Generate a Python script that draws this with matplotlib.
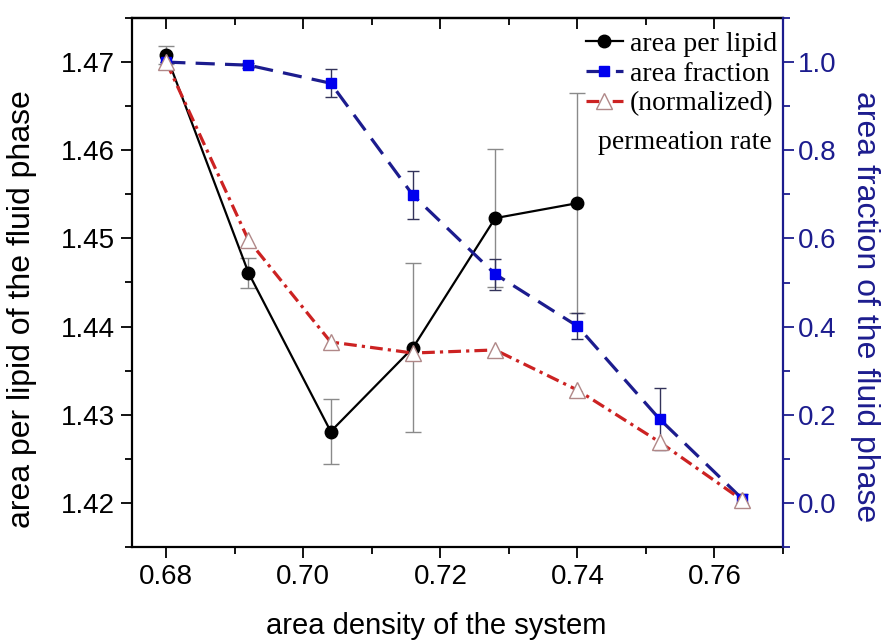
import matplotlib
matplotlib.use("Agg")
import matplotlib.pyplot as plt
from matplotlib.lines import Line2D
from matplotlib.ticker import MultipleLocator, FormatStrFormatter

plt.rcParams['font.family'] = ['Liberation Sans', 'DejaVu Sans']

# ---- data ----
density = [0.680, 0.692, 0.704, 0.716, 0.728, 0.740, 0.752, 0.764]

apl_x = [0.680, 0.692, 0.704, 0.716, 0.728, 0.740]
apl = [1.4708, 1.4461, 1.4281, 1.4376, 1.4523, 1.4540]
apl_err = [0.0010, 0.0017, 0.0037, 0.0096, 0.0078, 0.0125]

frac = [1.000, 0.993, 0.952, 0.698, 0.519, 0.401, 0.190, 0.010]
frac_err = [0.000, 0.006, 0.032, 0.055, 0.035, 0.030, 0.070, 0.010]

perm = [1.000, 0.596, 0.365, 0.340, 0.347, 0.256, 0.138, 0.007]

x_ticks = [0.68, 0.70, 0.72, 0.74, 0.76]
left_ticks = [1.42, 1.43, 1.44, 1.45, 1.46, 1.47]
right_ticks = [0.0, 0.2, 0.4, 0.6, 0.8, 1.0]

navy = '#1c1c8e'
W, H = 884, 644

fig = plt.figure(figsize=(W / 100, H / 100), dpi=100)
ax = fig.add_axes([132 / W, 1 - 547 / H, 651 / W, 529 / H])
ax2 = ax.twinx()

black_kw = dict(color='black', lw=1.6, marker='o', ms=9)
blue_kw = dict(color=navy, lw=2.3, dashes=(6, 3.2), marker='s', ms=7.5,
               mfc='#0000ee', mec='#0000ee')
red_kw = dict(color='#cc2222', lw=2.3, dashes=(4, 1.6, 1, 1.6), marker='^', ms=11,
              mfc='white', mec='#b08888', mew=1.0)

# black series: area per lipid (left axis)
ax.errorbar(apl_x, apl, yerr=apl_err, ecolor='#8a8a8a', elinewidth=1.0,
            capsize=5.5, capthick=1.0, zorder=3, **black_kw)

# blue series: area fraction (right axis)
ax2.errorbar(density, frac, yerr=frac_err, ecolor='#33335a', elinewidth=1.0,
             capsize=4.5, capthick=1.0, zorder=3, **blue_kw)

# red series: normalized permeation rate (right axis)
ax2.plot(density, perm, zorder=4, **red_kw)

ax.set_xlim(0.675, 0.770)
ax.set_ylim(1.415, 1.475)
ax2.set_ylim(-0.1, 1.1)

ax.set_xticks(x_ticks)
ax.xaxis.set_minor_locator(MultipleLocator(0.01))
ax.xaxis.set_major_formatter(FormatStrFormatter('%.2f'))
ax.set_yticks(left_ticks)
ax.yaxis.set_minor_locator(MultipleLocator(0.005))
ax.yaxis.set_major_formatter(FormatStrFormatter('%.2f'))
ax2.set_yticks(right_ticks)
ax2.yaxis.set_minor_locator(MultipleLocator(0.1))
ax2.yaxis.set_major_formatter(FormatStrFormatter('%.1f'))

ax.tick_params(axis='both', which='major', direction='out', length=8, width=1.3,
               labelsize=20, pad=4)
ax.tick_params(axis='both', which='minor', direction='out', length=5, width=1.3)
ax.tick_params(axis='y', right=False, which='both')
ax2.tick_params(axis='y', which='major', direction='out', length=8, width=1.3,
                labelsize=20, colors=navy, pad=3)
ax2.tick_params(axis='y', which='minor', direction='out', length=5, width=1.3,
                colors=navy)

top = ax.secondary_xaxis('top')
top.set_xticks(x_ticks)
top.xaxis.set_minor_locator(MultipleLocator(0.01))
top.tick_params(which='major', direction='in', length=8, width=1.3, labeltop=False)
top.tick_params(which='minor', direction='in', length=5, width=1.3)
top.spines['top'].set_linewidth(1.6)

for s in ['left', 'bottom', 'top']:
    ax.spines[s].set_linewidth(1.6)
ax2.spines['right'].set_color(navy)
ax2.spines['right'].set_linewidth(1.6)
ax2.spines['left'].set_visible(False)
ax2.spines['top'].set_visible(False)
ax2.spines['bottom'].set_visible(False)
ax.spines['right'].set_visible(False)

ax.set_xlabel('area density of the system', fontsize=21)
ax.xaxis.set_label_coords(0.468, -0.122)
ax.set_ylabel('area per lipid of the fluid phase', fontsize=23, va='center')
ax.yaxis.set_label_coords(-0.169, 0.45)
ax2.set_ylabel('area fraction of the fluid phase', fontsize=23, color=navy,
               rotation=270, va='center')
ax2.yaxis.set_label_coords(1.126, 0.455)

handles = [Line2D([], [], **black_kw), Line2D([], [], **blue_kw),
           Line2D([], [], **red_kw)]
labels = ['area per lipid', 'area fraction', '(normalized)']
ax2.legend(handles, labels, loc='upper right', bbox_to_anchor=(0.991, 0.974),
           frameon=False, borderpad=0, borderaxespad=0, labelspacing=0.15,
           handlelength=1.35, handletextpad=0.25,
           prop={'family': 'Liberation Serif', 'size': 20})
ax2.text(0.982, 0.764, 'permeation rate', transform=ax2.transAxes, ha='right',
         va='center', fontsize=20, family='Liberation Serif')

fig.savefig('out.png', dpi=100)
